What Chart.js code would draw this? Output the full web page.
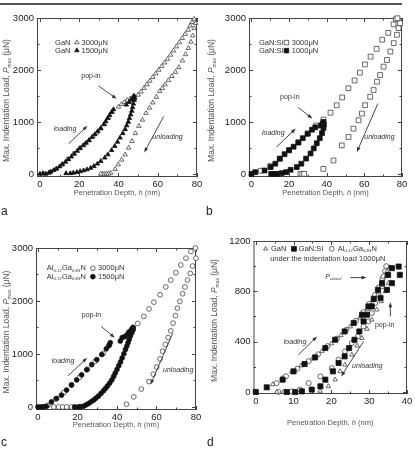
<!DOCTYPE html>
<html>
<head>
<meta charset="utf-8">
<script src="https://cdn.jsdelivr.net/npm/chart.js@4.4.1/dist/chart.umd.min.js"></script>
<style>
  body { margin:0; width:415px; height:449px; background:#fff; position:relative; overflow:hidden;
         font-family:"Liberation Sans", Arial, Helvetica, sans-serif; }
  .rule { position:absolute; left:0; top:3px; width:402px; height:2px; background:#555; }
  .panel { position:absolute; }
  .tag { position:absolute; font-size:12px; color:#222; line-height:12px; }
</style>
</head>
<body>
<div class="rule"></div>
<div class="panel" style="left:0;top:0"><canvas id="ca" width="205" height="225"></canvas></div>
<div class="panel" style="left:205px;top:0"><canvas id="cb" width="210" height="225"></canvas></div>
<div class="panel" style="left:0;top:225px"><canvas id="cc" width="205" height="224"></canvas></div>
<div class="panel" style="left:205px;top:225px"><canvas id="cd" width="210" height="224"></canvas></div>
<div class="tag" style="left:1px;top:205px">a</div>
<div class="tag" style="left:206px;top:205px">b</div>
<div class="tag" style="left:1px;top:436px">c</div>
<div class="tag" style="left:207px;top:436px">d</div>
<script>
// nanoindentation load-depth curves, four panels
const FAM = '"Liberation Sans", Arial, Helvetica, sans-serif';
Chart.defaults.font.family = FAM;
Chart.defaults.color = '#333';
Chart.defaults.animation = false;

// ---- data: [depth h (nm), load P (uN)] ----
// panel a: GaN
const ganA3000 = [[2,5],[5,30],[8,90],[11,175],[14,280],[17,390],[20,490],[22.5,560],[25,640],[27,720],[29,790],[31,870],[33,960],[35,1080],[36.8,1190],
  [40,1290],[41.5,1340],[43,1380],[44.5,1420],[46,1450],[47.5,1490],
  [50,1520],[51.5,1580],[53,1650],[54.5,1720],[56,1790],[57.5,1860],[59,1930],[60.5,2000],[62,2070],[63.5,2140],[65,2210],[66.5,2290],[68,2370],[69.5,2450],[71,2530],[72.5,2610],[74,2690],[75.5,2770],[76.5,2850],[77.5,2920],[78.5,2980],
  [79.3,2900],[78.6,2800],[77.8,2660],[76.9,2540],[75.6,2420],[74.2,2300],[72.6,2180],[70.7,2050],[69,1960],[67.2,1880],[65.5,1800],[63.7,1720],[62.3,1650],[61,1590],[59.3,1480],[57.5,1370],[55.8,1270],[54,1170],[52.2,1040],[50.4,920],[48.6,780],[46.9,630],[45.2,500],[43.4,370],[41.6,270],[39.9,180],[38.3,90],
  [36,20],[35,0],[34,0],[33,0],[32,0],[31,0]];
const ganA1500 = [[0,0],[1.5,10],[3,0],[4.5,20],[5.5,40],[7,70],[8.5,100],[10,140],[11.5,185],[13,230],[14.5,280],[16,330],[17.5,385],[19,440],[20.5,495],[22,545],[23.5,595],[25,650],[26.5,705],[28,760],[29.5,820],[31,880],[32.5,950],[33.5,1010],[34.5,1070],[35.5,1130],[36.5,1190],[37.5,1240],
  [44,1330],[45.5,1380],[46.5,1430],[47.5,1470],[48,1500],
  [48.3,1460],[48,1420],[47.6,1350],[47.2,1280],[46.8,1211],[46.2,1140],[45.6,1070],[45,1000],[44.2,930],[43.4,857],[42.2,780],[40.8,695],[39.5,615],[38.1,534],[36.5,455],[34.6,373],[33,310],[31,245],[29.3,195],[27.5,148],[25.8,112],[24,84],[22.3,65],[20.5,48],[18.8,32],[17,20],[15.5,10],[13.3,10]];

// panel b: GaN:Si
const siB3000 = [[5,60],[10,150],[15,290],[20,450],[25,610],[30,780],[34.5,930],
  [38.3,1046],[42,1177],[45.3,1321],[48.2,1471],[51.5,1648],[54.8,1798],[57.6,1949],[60.3,2106],[63.3,2256],[66.5,2407],[69.5,2583],[72.7,2714],[75.5,2878],[76.8,2976],[77.6,2995],
  [79,2900],[78.2,2806],[77.3,2677],[75.6,2516],[73.8,2354],[72,2193],[70.2,2064],[68.4,1903],[66.7,1774],[64.9,1613],[63.1,1484],[60.4,1322],[58.7,1161],[56.9,1032],[54.2,871],[51.6,710],[48,548],[43.6,258],[38.2,97],
  [26,0],[27,0],[28,0]];
const siB1000 = [[0,0],[2,33],[7,65],[10.2,131],[12.7,196],[15.1,294],[17.6,379],[20,458],[22.4,523],[24.9,602],[27.3,687],[29.8,772],[32.2,850],[33.9,896],
  [37,930],[37.8,960],[38.2,1000],
  [38.5,950],[38.3,883],[37.5,785],[36.3,687],[34.7,589],[33.1,490],[31.4,392],[29,294],[26.5,196],[24.1,131],[20.8,78],[18.4,33],[16,13],[13.5,0],[11.8,0],[10.5,0]];

// panel c: Al0.17Ga0.83N
const alC3000 = [[5,30],[9,150],[13,270],[17,415],[21,560],[25,715],[29,860],[33,1010],[36,1170],
  [44,1330],[46,1420],[48,1500],
  [50.5,1576],[53.6,1710],[56.2,1850],[58.7,1978],[61.8,2118],[64.7,2265],[67.2,2393],[69.8,2533],[72.3,2680],[74.9,2807],[77.4,2935],[79.7,3000],
  [80,2807],[78.3,2660],[77.1,2520],[75.7,2393],[74.4,2265],[73.2,2137],[71.8,1991],[70.6,1863],[69.6,1723],[68.4,1582],[67.2,1436],[65.9,1308],[64.5,1180],[63.1,1053],[61.8,906],[60.1,753],[58.4,619],[56.2,479],[52.3,338],[48.5,191],[44.8,51],
  [8,0],[10.5,0],[12.5,0],[14.5,0],[17,0]];
const alC1500 = [[0,0],[1.5,0],[3,5],[4.3,13],[6.8,96],[9.4,160],[11.9,223],[14.5,319],[17,415],[19.6,510],[22.1,606],[24.7,702],[27.2,798],[29.8,893],[32.3,989],[34.6,1097],[36,1160],[36.6,1212],
  [41.7,1244],[42.6,1308],[44,1330],[45.5,1380],[46.5,1420],[47.5,1470],[48.2,1500],
  [48.2,1455],[47.5,1400],[46.8,1340],[46.2,1275],[45.6,1212],[45,1150],[44.3,1085],[43.5,1005],[42.6,925],[41.8,850],[40.9,778],[40,708],[39.1,638],[38.3,575],[37.4,510],[36.3,450],[35.2,396],[34.2,350],[33.2,306],[31.9,255],[30.6,204],[29.3,165],[28.1,128],[26.8,95],[25.5,64],[24.2,35],[23,13],[21.5,5],[20.4,0],[18.5,0]];

// panel d: all at 1000 uN
const ganD = [[4.5,60],[7,110],[9.5,160],[12,210],[15,265],[17.5,325],[20,385],[22.5,450],[25,520],[27.5,590],[29.5,660],[31,730],[32.5,790],[33.5,850],[34.5,920],[35.5,990],
  [34.7,958],[35.1,866],[34.3,800],[33.2,720],[32,654],[30.7,574],[29.4,500],[28.1,428],[26.8,368],[25.4,296],[23.6,216],[22.3,164],[21,98],[19.2,45],[17,8],[7.3,0],[5.6,0]];
const siD = [[0,0],[2.9,37],[7.1,98],[10,164],[12.9,222],[15.7,275],[18.4,349],[21,415],[23.5,481],[25.9,548],[28.1,614],[29.8,680],[31.2,741],[32.3,812],[33.4,865],[35,931],[36,984],[37.8,997],
  [38.1,931],[36,865],[34.7,812],[33,746],[30.7,680],[29.4,614],[28.5,561],[27.4,481],[26.1,415],[24.7,349],[23.5,283],[21.9,230],[20.4,164],[18.4,98],[17.1,45],[14.8,19],[12.2,5],[10.4,0],[8.2,0]];
const alD = [[5.5,70],[8,125],[11,185],[14,245],[16.5,300],[19,365],[21.5,425],[24,495],[26.5,565],[28.5,635],[30,700],[31.5,770],[32.5,830],[33.5,900],[34.2,960],[34.5,1000],
  [33.8,918],[33.4,839],[32.5,773],[31.6,706],[30.7,627],[29.8,561],[28.5,522],[27,442],[25.4,389],[23.6,323],[21.9,257],[20.1,190],[17.1,124],[14,71],[11.7,19],[9.5,5],[6,0]];

// ticks
const xTicks80 = [0, 20, 40, 60, 80];
const xMinor80 = [10, 30, 50, 70];
const yTicks3000 = [0, 1000, 2000, 3000];
const yMinor3000 = [500, 1500, 2500];
const xTicks40 = [0, 10, 20, 30, 40];
const xMinor40 = [5, 15, 25, 35];
const yTicks1200 = [0, 400, 800, 1200];
const yMinor1200 = [200, 600, 1000];

const YTITLE = [['Max. Indentation Load, '], ['P', 'i'], ['max', 's'], [' (\u03bcN)']];
const XTITLE = [['Penetration Depth, '], ['h', 'i'], [' (nm)']];

function rich(ctx, parts, x, y, size, align) {
  const fontOf = f => (f.includes('i') ? 'italic ' : '') + (f.includes('s') ? size * 0.58 : size) + 'px ' + FAM;
  let w = 0;
  parts.forEach(([t, f = '']) => { ctx.font = fontOf(f); w += ctx.measureText(t).width; });
  let cx = align === 'center' ? x - w / 2 : align === 'right' ? x - w : x;
  ctx.textAlign = 'left';
  ctx.textBaseline = 'middle';
  parts.forEach(([t, f = '']) => {
    ctx.font = fontOf(f);
    ctx.fillText(t, cx, y + (f.includes('s') ? size * 0.3 : 0));
    cx += ctx.measureText(t).width;
  });
}

function arrow(ctx, x1, y1, x2, y2) {
  const a = Math.atan2(y2 - y1, x2 - x1), L = 5, W = 1.8;
  ctx.beginPath(); ctx.moveTo(x1, y1); ctx.lineTo(x2 - L * 0.8 * Math.cos(a), y2 - L * 0.8 * Math.sin(a)); ctx.stroke();
  ctx.beginPath(); ctx.moveTo(x2, y2);
  ctx.lineTo(x2 - L * Math.cos(a) + W * Math.sin(a), y2 - L * Math.sin(a) - W * Math.cos(a));
  ctx.lineTo(x2 - L * Math.cos(a) - W * Math.sin(a), y2 - L * Math.sin(a) + W * Math.cos(a));
  ctx.closePath(); ctx.fill();
}

function marker(ctx, style, r, filled, x, y) {
  ctx.fillStyle = filled ? '#111' : '#fff';
  ctx.strokeStyle = filled ? '#111' : '#444';
  ctx.lineWidth = 0.8;
  Chart.helpers.drawPoint(ctx, { pointStyle: style, radius: r, rotation: 0, borderWidth: 0.8 }, x, y);
}

function series(pts, style, r, filled) {
  return {
    data: pts.map(([x, y]) => ({ x, y })),
    pointStyle: style, pointRadius: r, pointHoverRadius: r,
    backgroundColor: filled ? '#111' : '#fff',
    borderColor: filled ? '#111' : '#444',
    borderWidth: 0.8, showLine: false, clip: false
  };
}

function panel(id, p) {
  const deco = {
    id: 'deco',
    beforeDatasetsDraw(chart) {
      const { ctx, chartArea: a, scales: { x, y } } = chart;
      ctx.save();
      ctx.strokeStyle = '#444'; ctx.lineWidth = 1;
      ctx.strokeRect(a.left + 0.5, a.top + 0.5, a.right - a.left - 1, a.bottom - a.top - 1);
      ctx.beginPath();
      const tx = (v, len) => { const px = Math.round(x.getPixelForValue(v)) + 0.5;
        ctx.moveTo(px, a.bottom); ctx.lineTo(px, a.bottom - len); ctx.moveTo(px, a.top); ctx.lineTo(px, a.top + len); };
      const ty = (v, len) => { const py = Math.round(y.getPixelForValue(v)) + 0.5;
        ctx.moveTo(a.left, py); ctx.lineTo(a.left + len, py); ctx.moveTo(a.right, py); ctx.lineTo(a.right - len, py); };
      p.xt.forEach(v => tx(v, 4)); p.xm.forEach(v => tx(v, 2.5));
      p.yt.forEach(v => ty(v, 4)); p.ym.forEach(v => ty(v, 2.5));
      ctx.stroke();
      ctx.restore();
    },
    afterDatasetsDraw(chart) {
      const { ctx, chartArea: a, scales: { x, y } } = chart;
      const X = v => x.getPixelForValue(v), Y = v => y.getPixelForValue(v);
      ctx.save();
      // axis titles
      ctx.fillStyle = '#555';
      ctx.save();
      ctx.translate(p.ytx, (a.top + a.bottom) / 2 + 3);
      ctx.rotate(-Math.PI / 2);
      rich(ctx, YTITLE, 0, 0, 8.5, 'center');
      ctx.restore();
      rich(ctx, XTITLE, (a.left + a.right) / 2, a.bottom + p.xty, 7.5, 'center');
      // legend rows
      p.legend.forEach(row => {
        row.items.forEach(it => {
          if (it.mk) marker(ctx, it.mk, it.r, it.filled, X(it.h), Y(row.P));
          else { ctx.fillStyle = '#333'; rich(ctx, it.t, X(it.h), Y(row.P), 7.5, 'left'); }
        });
      });
      // notes and arrows
      ctx.fillStyle = '#333';
      p.notes.forEach(n => rich(ctx, n.t, X(n.at[0]), Y(n.at[1]), 7, n.align || 'center'));
      ctx.strokeStyle = '#333'; ctx.fillStyle = '#333'; ctx.lineWidth = 0.9;
      p.arrows.forEach(([f, t]) => arrow(ctx, X(f[0]), Y(f[1]), X(t[0]), Y(t[1])));
      ctx.restore();
    }
  };
  return new Chart(document.getElementById(id), {
    type: 'scatter',
    data: { datasets: p.sets },
    options: {
      responsive: false,
      layout: { padding: { top: p.pt, right: p.pr, left: 0, bottom: 0 } },
      plugins: { legend: { display: false }, tooltip: { enabled: false } },
      scales: {
        x: {
          type: 'linear', min: p.xr[0], max: p.xr[1],
          afterBuildTicks: s => { s.ticks = p.xt.map(v => ({ value: v })); },
          afterFit: s => { s.height = p.xh; },
          grid: { display: false, drawTicks: false }, border: { display: false },
          ticks: { padding: 2, font: { size: 9.5 }, color: '#222', maxRotation: 0, autoSkip: false, callback: v => String(v) }
        },
        y: {
          type: 'linear', min: p.yr[0], max: p.yr[1],
          afterBuildTicks: s => { s.ticks = p.yt.map(v => ({ value: v })); },
          afterFit: s => { s.width = p.yw; },
          grid: { display: false, drawTicks: false }, border: { display: false },
          ticks: { padding: 3, font: { size: 9.5 }, color: '#222', autoSkip: false, callback: v => String(v) }
        }
      }
    },
    plugins: [deco]
  });
}

const AL = [['Al'], ['0.17', 's'], ['Ga'], ['0.83', 's'], ['N']];

panel('ca', {
  pt: 18, pr: 8, yw: 37, xh: 48, xr: [-1.5, 80], yr: [-60, 3000],
  xt: xTicks80, xm: xMinor80, yt: yTicks3000, ym: yMinor3000, ytx: 7, xty: 16,
  sets: [series(ganA1500, 'triangle', 2.6, true), series(ganA3000, 'triangle', 2.6, false)],
  legend: [
    { P: 2529, items: [{ t: [['GaN']], h: 7.7 }, { mk: 'triangle', r: 2.6, filled: false, h: 18.8 }, { t: [['3000\u03bcN']], h: 21.2 }] },
    { P: 2375, items: [{ t: [['GaN']], h: 7.7 }, { mk: 'triangle', r: 2.6, filled: true, h: 18.8 }, { t: [['1500\u03bcN']], h: 21.2 }] }
  ],
  notes: [{ t: [['pop-in']], at: [26, 1887] }, { t: [['loading', 'i']], at: [12.8, 860] }, { t: [['unloading', 'i']], at: [65, 706] }],
  arrows: [[[29.8, 1695], [39.1, 1444]], [[14.5, 578], [24.2, 924]], [[63, 1104], [53.1, 411]]]
});

panel('cb', {
  pt: 18, pr: 13, yw: 44, xh: 48, xr: [-1.3, 80], yr: [-60, 3000],
  xt: xTicks80, xm: xMinor80, yt: yTicks3000, ym: yMinor3000, ytx: 7, xty: 16,
  sets: [series(siB1000, 'rect', 3.4, true), series(siB3000, 'rect', 3.4, false)],
  legend: [
    { P: 2527, items: [{ t: [['GaN:Si']], h: 4 }, { mk: 'rect', r: 3.2, filled: false, h: 18.6 }, { t: [['3000\u03bcN']], h: 21.4 }] },
    { P: 2372, items: [{ t: [['GaN:Si']], h: 4 }, { mk: 'rect', r: 3.2, filled: true, h: 18.6 }, { t: [['1000\u03bcN']], h: 21.4 }] }
  ],
  notes: [{ t: [['pop-in']], at: [20.4, 1484] }, { t: [['loading', 'i']], at: [11.6, 787] }, { t: [['unloading', 'i']], at: [68, 710] }],
  arrows: [[[24.9, 1277], [32.4, 1064]], [[13.3, 516], [23.5, 871]], [[67.2, 1355], [56, 419]]]
});

panel('cc', {
  pt: 23, pr: 9, yw: 36, xh: 39, xr: [-1, 80], yr: [-57, 3000],
  xt: xTicks80, xm: xMinor80, yt: yTicks3000, ym: yMinor3000, ytx: 7, xty: 15,
  sets: [series(alC1500, 'circle', 2.4, true), series(alC3000, 'circle', 2.4, false)],
  legend: [
    { P: 2617, items: [{ t: AL, h: 4.5 }, { mk: 'circle', r: 2.4, filled: false, h: 27.8 }, { t: [['3000\u03bcN']], h: 30.4 }] },
    { P: 2459, items: [{ t: AL, h: 4.5 }, { mk: 'circle', r: 2.4, filled: true, h: 27.8 }, { t: [['1500\u03bcN']], h: 30.4 }] }
  ],
  notes: [{ t: [['pop-in']], at: [27.1, 1737] }, { t: [['loading', 'i']], at: [12.7, 865] }, { t: [['unloading', 'i']], at: [71, 695] }],
  arrows: [[[32.1, 1516], [38.9, 1307]], [[15.2, 587], [24.9, 928]], [[68.2, 1390], [57, 423]]]
});

panel('cd', {
  pt: 16, pr: 8, yw: 48.5, xh: 55, xr: [-0.6, 40], yr: [-16, 1200],
  xt: xTicks40, xm: xMinor40, yt: yTicks1200, ym: yMinor1200, ytx: 10, xty: 29,
  sets: [series(siD, 'rect', 3.6, true), series(ganD, 'triangle', 2.6, false), series(alD, 'circle', 2.5, false)],
  legend: [
    { P: 1138, items: [{ mk: 'triangle', r: 2.4, filled: false, h: 2.6 }, { t: [['GaN']], h: 4 },
      { mk: 'rect', r: 3.4, filled: true, h: 10.1 }, { t: [['GaN:Si']], h: 11.4 },
      { mk: 'circle', r: 2.4, filled: false, h: 20.1 }, { t: AL, h: 21.7 }] },
    { P: 1060, items: [{ t: [['under the indentation load 1000\u03bcN']], h: 3.8 }] }
  ],
  notes: [{ t: [['P', 'i'], ['critical', 'is']], at: [18.4, 917], align: 'left' }, { t: [['pop-in']], at: [34.1, 529] },
    { t: [['loading', 'i']], at: [10.4, 396] }, { t: [['unloading', 'i']], at: [29.5, 203] }],
  arrows: [[[25, 909], [29.3, 909]], [[35.6, 600], [35.6, 714]], [[11.3, 296], [16.2, 441]], [[28.5, 402], [22.6, 124]]]
});
</script>
</body>
</html>
